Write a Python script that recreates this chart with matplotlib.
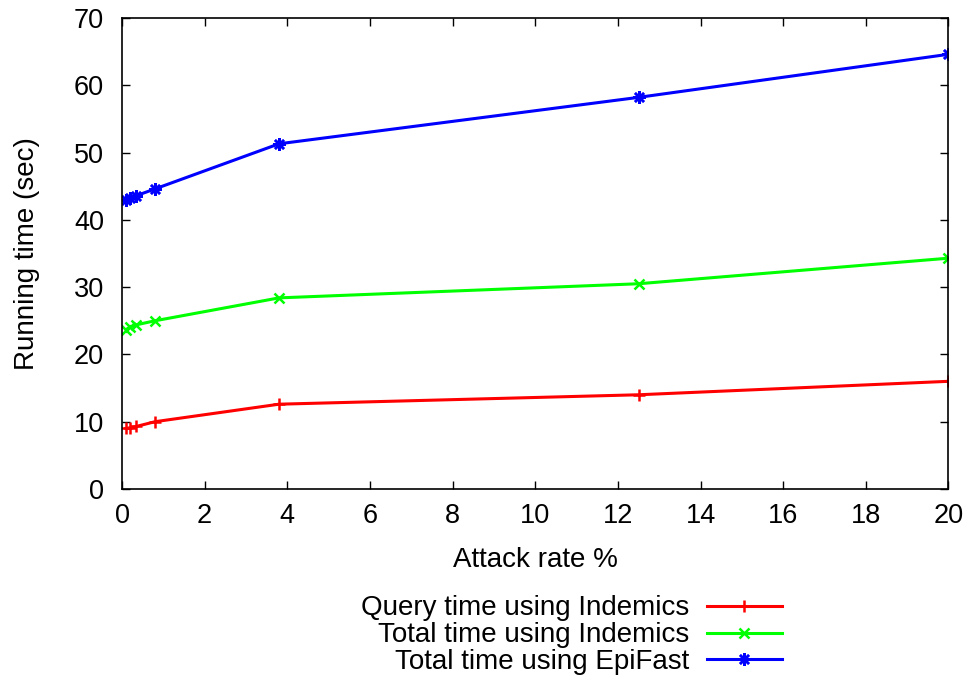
import matplotlib
matplotlib.use("Agg")
import matplotlib.pyplot as plt

plt.rcParams['font.family'] = ['Liberation Sans', 'DejaVu Sans']

# data
attack_rate = [0.1, 0.2, 0.35, 0.8, 3.8, 12.5, 20]
query_indemics = [9.0, 9.1, 9.3, 10.0, 12.6, 14.0, 16.0]
total_indemics = [23.7, 24.1, 24.4, 25.0, 28.4, 30.5, 34.3]
total_epifast = [43.0, 43.2, 43.6, 44.6, 51.3, 58.2, 64.6]

fig = plt.figure(figsize=(9.7, 6.78), dpi=100)
ax = fig.add_axes([0.1258, 0.2788, 0.852, 0.6947])

ax.plot(attack_rate, query_indemics, color='#ff0000', lw=2.2, marker='+', ms=9, mew=1.8,
        label='Query time using Indemics')
ax.plot(attack_rate, total_indemics, color='#00ff00', lw=2.2, marker='x', ms=7, mew=1.8,
        label='Total time using Indemics')
ax.plot(attack_rate, total_epifast, color='#0000ff', lw=2.2, marker=(8, 2, 0), ms=9, mew=1.8,
        label='Total time using EpiFast')

ax.set_xlim(0, 20)
ax.set_ylim(0, 70)
ax.set_xticks(range(0, 21, 2))
ax.set_yticks(range(0, 71, 10))
ax.tick_params(direction='in', length=6, width=1, top=True, right=True, labelsize=19.5)
ax.tick_params(axis='x', pad=10)
ax.tick_params(axis='y', pad=13)
ax.set_xlabel('Attack rate %', fontsize=20, va='center')
ax.set_ylabel('Running time (sec)', fontsize=20, va='center')
ax.xaxis.set_label_coords(0.5, -0.151)
ax.yaxis.set_label_coords(-0.115, 0.5)
for s in ax.spines.values():
    s.set_linewidth(1.2)

fig.legend(loc='center', bbox_to_anchor=(0.589, 0.063), frameon=False, markerfirst=False,
           fontsize=20, handlelength=2.7, labelspacing=0.03, handletextpad=0.65,
           borderpad=0)

fig.savefig('out.png', dpi=100)
